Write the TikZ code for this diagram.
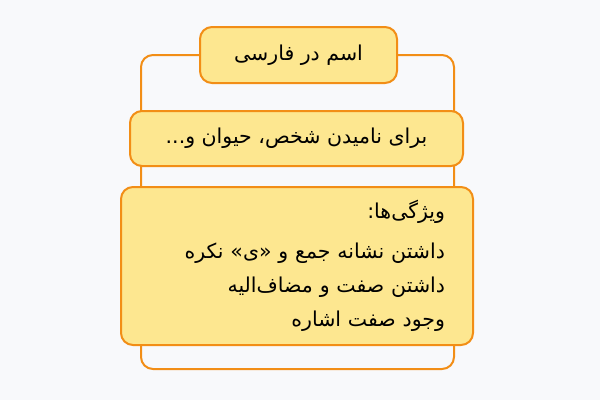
\documentclass[tikz,border=0pt]{standalone}
\usepackage{fontspec}
\newfontfamily\arabicfont[Script=Arabic]{DejaVu Sans}
\TeXXeTstate=1
\usetikzlibrary{positioning}
\definecolor{bgcol}{RGB}{248,249,251}
\definecolor{boxfill}{RGB}{253,231,144}
\definecolor{boxline}{RGB}{242,142,22}
\tikzset{
  topicbox/.style={draw=boxline,fill=boxfill,line width=2pt,rounded corners=12pt,
    inner sep=0pt,font=\arabicfont\fontsize{20.5}{34}\selectfont},
  framestyle/.style={draw=boxline,line width=2pt,rounded corners=12pt}
}
\begin{document}
\begin{tikzpicture}[x=1pt,y=-1pt]
        % Canvas
        \fill[bgcol](0,0)rectangle(600,400);
        \useasboundingbox(0,0)rectangle(600,400);
        % Frame behind the boxes
        \coordinate(frameNW)at(141,55);
        \coordinate(frameSE)at(454,369);
        \draw[framestyle](frameNW)rectangle(frameSE);
        % Boxes
        \node[topicbox,minimum width=197pt,minimum height=56pt](title)at(298.5,55){\beginR اسم در فارسی\endR};
        \node[topicbox,minimum width=333pt,minimum height=55pt](purpose)at(296.5,138.5){\beginR برای نامیدن شخص، حیوان و...\endR};
        \node[topicbox,minimum width=352pt,minimum height=158pt,text width=296pt,align=right](features)at(297,266){%
          \beginR ویژگی‌ها:\endR\\[6pt]
          \beginR داشتن نشانه جمع و «ی» نکره\endR\\
          \beginR داشتن صفت و مضاف‌الیه\endR\\
          \beginR وجود صفت اشاره\endR};
\end{tikzpicture}
\end{document}
